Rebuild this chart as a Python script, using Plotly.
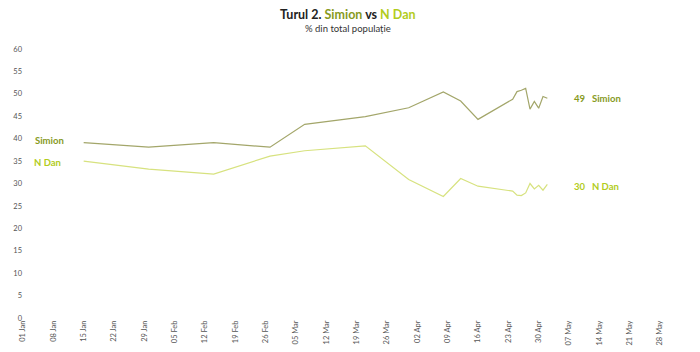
import plotly.graph_objects as go

dates = ["2025-01-15", "2025-01-30", "2025-02-14", "2025-02-27", "2025-03-07",
         "2025-03-21", "2025-03-31", "2025-04-08", "2025-04-12", "2025-04-16",
         "2025-04-24", "2025-04-25", "2025-04-26", "2025-04-27", "2025-04-28",
         "2025-04-29", "2025-04-30", "2025-05-01", "2025-05-02"]
simion = [39.1, 38.1, 39.1, 38.1, 43.2, 44.9, 46.9, 50.4, 48.4, 44.3,
          48.8, 50.5, 50.8, 51.2, 46.6, 48.3, 46.8, 49.4, 49.0]
ndan = [35.0, 33.2, 32.1, 36.1, 37.3, 38.4, 30.9, 27.1, 31.1, 29.4,
        28.3, 27.4, 27.3, 27.9, 30.0, 28.8, 29.6, 28.5, 29.8]

title_main = "Turul 2."
subtitle = "% din total populație"
name_s = "Simion"
name_d = "N Dan"

C_S_LINE = "#a3a66a"
C_D_LINE = "#d7e27f"
C_S_TXT = "#879a1e"
C_D_TXT = "#b2cc1c"
FONT = "Lato"

PLOT_TOP = 49.3
PLOT_BOTTOM = 317.7


def py_to_paper(py):
    return (PLOT_BOTTOM - py) / (PLOT_BOTTOM - PLOT_TOP)


fig = go.Figure()
fig.add_trace(go.Scatter(x=dates, y=simion, mode="lines", name=name_s,
                         line=dict(color=C_S_LINE, width=1.2)))
fig.add_trace(go.Scatter(x=dates, y=ndan, mode="lines", name=name_d,
                         line=dict(color=C_D_LINE, width=1.2)))

ann = []
# right end labels
ann.append(dict(x=0.8445, xref="paper", y=simion[-1], yref="y", xanchor="left",
                text=f"<b>{round(simion[-1])}&nbsp;&nbsp;&nbsp;{name_s}</b>", showarrow=False,
                font=dict(family=FONT, size=9.5, color=C_S_TXT)))
ann.append(dict(x=0.8445, xref="paper", y=ndan[-1], yref="y", xanchor="left", yshift=-2,
                text=f"<b>{round(ndan[-1])}&nbsp;&nbsp;&nbsp;{name_d}</b>", showarrow=False,
                font=dict(family=FONT, size=9.5, color=C_D_TXT)))
# left labels
ann.append(dict(x=0.0155, xref="paper", y=simion[0], yref="y", xanchor="left", yshift=2,
                text=f"<b>{name_s}</b>", showarrow=False,
                font=dict(family=FONT, size=9.5, color=C_S_TXT)))
ann.append(dict(x=0.0140, xref="paper", y=ndan[0], yref="y", xanchor="left", yshift=-1,
                text=f"<b>{name_d}</b>", showarrow=False,
                font=dict(family=FONT, size=9.5, color=C_D_TXT)))
# title + subtitle
ann.append(dict(x=0.5, xref="paper", xanchor="center", y=py_to_paper(15), yref="paper",
                yanchor="middle",
                text=f"<b>{title_main} <span style='color:{C_S_TXT}'>{name_s}</span> vs "
                     f"<span style='color:{C_D_TXT}'>{name_d}</span></b>",
                showarrow=False, font=dict(family=FONT, size=12.5, color="#222222")))
ann.append(dict(x=0.5, xref="paper", xanchor="center", y=py_to_paper(28.5), yref="paper",
                yanchor="middle", text=subtitle, showarrow=False,
                font=dict(family=FONT, size=9.5, color="#333333")))

fig.update_layout(
    width=700, height=352,
    margin=dict(l=22.7, r=27, t=PLOT_TOP, b=352 - PLOT_BOTTOM, autoexpand=False),
    paper_bgcolor="white", plot_bgcolor="white",
    showlegend=False,
    annotations=ann,
    xaxis=dict(type="date", range=["2025-01-01", "2025-05-31"],
               tick0="2025-01-01", dtick=7 * 86400000, tickformat="%d %b",
               tickangle=-90, showgrid=False, zeroline=False, showline=False,
               ticks="", tickfont=dict(family=FONT, size=7.5, color="#555555")),
    yaxis=dict(range=[0, 60], dtick=5, showgrid=False, zeroline=False, showline=False,
               ticks="", tickfont=dict(family=FONT, size=7.5, color="#555555")),
)

fig.write_html("out.html")
